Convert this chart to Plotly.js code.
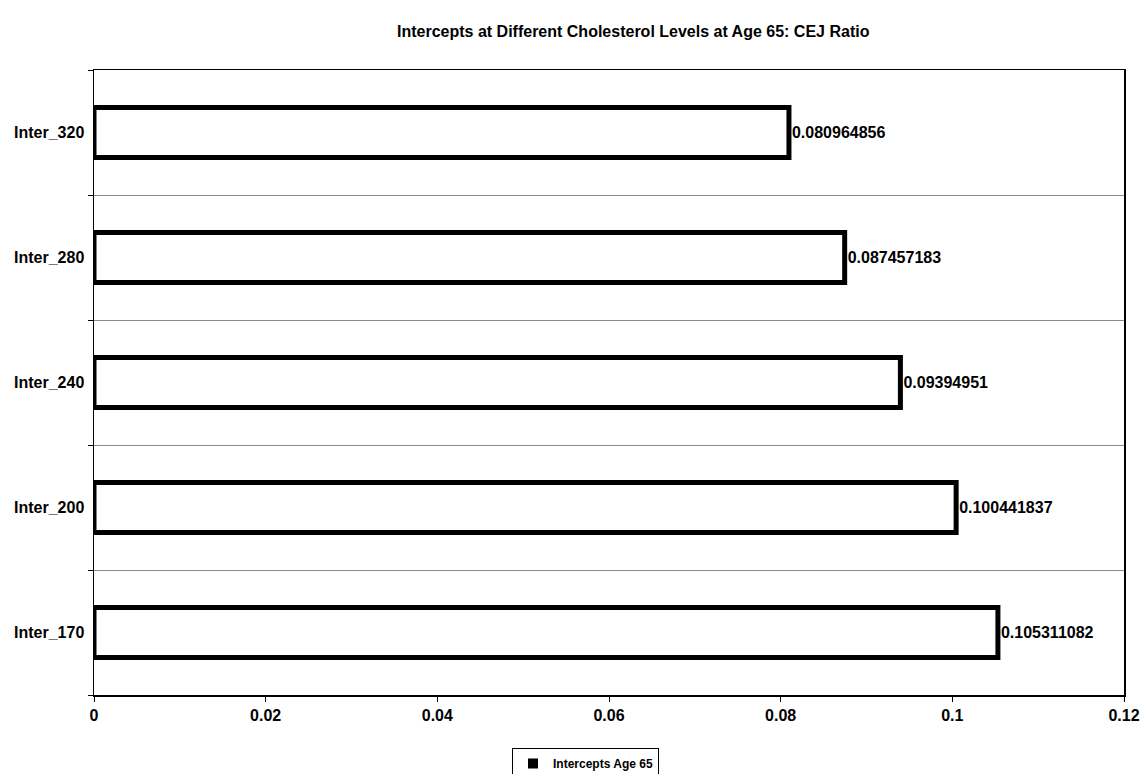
<!DOCTYPE html>
<html>
<head>
<meta charset="utf-8">
<script src="https://cdn.plot.ly/plotly-3.0.1.min.js"></script>
<style>html,body{margin:0;padding:0;background:#fff;}#chart{width:1143px;height:774px;}</style>
</head>
<body>
<div id="chart"></div>
<script>
const categories = ['Inter_170', 'Inter_200', 'Inter_240', 'Inter_280', 'Inter_320'];
const values = [0.105311082, 0.100441837, 0.09394951, 0.087457183, 0.080964856];
const seriesName = 'Intercepts Age 65';
const chartTitle = 'Intercepts at Different Cholesterol Levels at Age 65: CEJ Ratio';
const xTicks = [0, 0.02, 0.04, 0.06, 0.08, 0.1, 0.12];

const fontFam = '"Liberation Sans", Arial, sans-serif';

const barTrace = {
  type: 'bar',
  orientation: 'h',
  name: seriesName,
  y: categories,
  x: values,
  text: values.map(v => String(v)),
  textposition: 'outside',
  cliponaxis: false,
  textfont: {family: fontFam, size: 16, color: '#000', weight: 'bold'},
  marker: {color: '#ffffff', line: {color: '#000000', width: 5}},
  showlegend: false
};

// legend-only entry (solid square key, as in the original legend)
const legendTrace = {
  type: 'scatter',
  mode: 'markers',
  name: seriesName,
  x: [null],
  y: [null],
  marker: {symbol: 'square', size: 10, color: '#000'},
  showlegend: true,
  hoverinfo: 'skip'
};

const layout = {
  width: 1143,
  height: 774,
  margin: {l: 94, r: 19, t: 70, b: 79},
  paper_bgcolor: '#fff',
  plot_bgcolor: '#fff',
  font: {family: fontFam, color: '#000'},
  bargap: 0.6,
  title: {
    text: '<b>' + chartTitle + '</b>',
    font: {family: fontFam, size: 16, color: '#000'},
    x: 0.554, xref: 'container', xanchor: 'center',
    y: 0.96, yref: 'container', yanchor: 'middle'
  },
  xaxis: {
    range: [0, 0.12],
    tickvals: xTicks,
    ticktext: xTicks.map(String),
    ticks: 'outside', ticklen: 5, tickcolor: '#000', tickwidth: 1,
    showgrid: false, zeroline: false,
    showline: true, linecolor: '#000', linewidth: 1.5, mirror: true,
    tickfont: {family: fontFam, size: 16, color: '#000', weight: 'bold'}
  },
  yaxis: {
    type: 'category',
    range: [-0.5, 4.5],
    tickson: 'boundaries',
    ticks: 'outside', ticklen: 5, tickcolor: '#000',
    ticklabelstandoff: 5,
    showgrid: true, gridcolor: '#8a8a8a', gridwidth: 1,
    zeroline: false,
    showline: true, linecolor: '#000', linewidth: 1.5, mirror: true,
    tickfont: {family: fontFam, size: 16, color: '#000', weight: 'bold'}
  },
  showlegend: true,
  legend: {
    orientation: 'h',
    x: 512 / 1143, xref: 'container', xanchor: 'left',
    y: 1 - 748 / 774, yref: 'container', yanchor: 'top',
    bordercolor: '#000', borderwidth: 1,
    bgcolor: '#fff',
    font: {family: fontFam, size: 12, color: '#000', weight: 'bold'}
  }
};

Plotly.newPlot('chart', [barTrace, legendTrace], layout, {displayModeBar: false, staticPlot: true});
</script>
</body>
</html>
